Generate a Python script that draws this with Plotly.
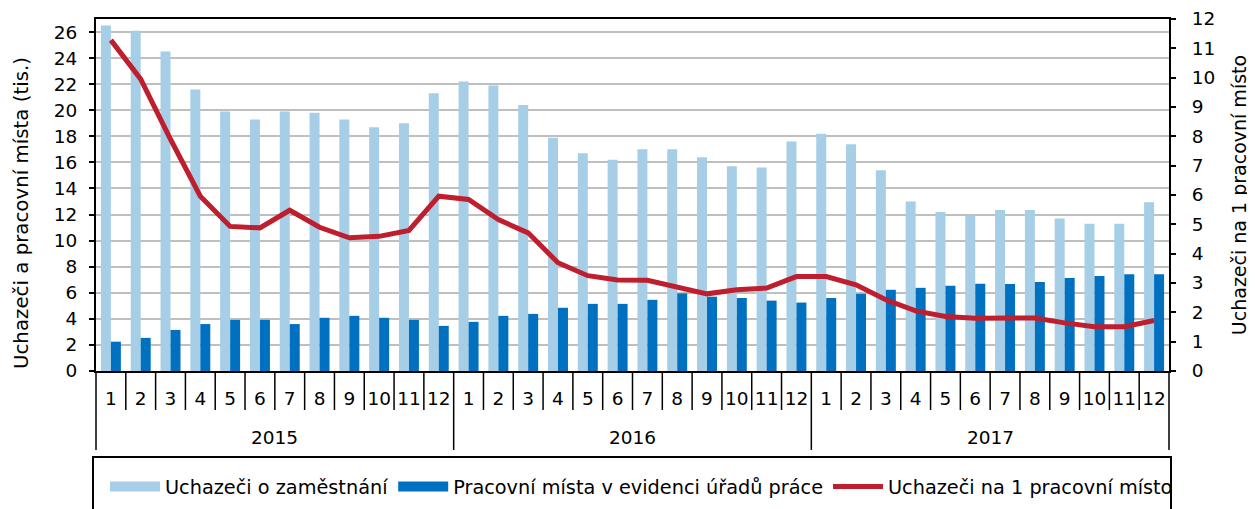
import plotly.graph_objects as go

years = ["2015", "2016", "2017"]
months = [str(m) for m in range(1, 13)]

uchazeci = [
    26.5, 26.1, 24.5, 21.6, 19.9, 19.3, 19.9, 19.8, 19.3, 18.7, 19.0, 21.3,
    22.2, 21.9, 20.4, 17.9, 16.7, 16.2, 17.0, 17.0, 16.4, 15.7, 15.6, 17.6,
    18.2, 17.4, 15.4, 13.0, 12.2, 11.95, 12.35, 12.35, 11.7, 11.3, 11.3, 12.95,
]
mista = [
    2.25, 2.54, 3.15, 3.6, 3.92, 3.92, 3.6, 4.08, 4.23, 4.08, 3.92, 3.46,
    3.77, 4.23, 4.38, 4.85, 5.15, 5.15, 5.46, 5.95, 5.7, 5.6, 5.4, 5.25,
    5.6, 5.92, 6.23, 6.38, 6.54, 6.69, 6.67, 6.82, 7.13, 7.28, 7.43, 7.43,
]
ratio = [
    11.28, 9.95, 7.9, 5.96, 4.93, 4.88, 5.48, 4.9, 4.54, 4.59, 4.79, 5.96,
    5.85, 5.16, 4.71, 3.69, 3.25, 3.1, 3.09, 2.86, 2.63, 2.77, 2.83, 3.22,
    3.22, 2.94, 2.43, 2.05, 1.86, 1.8, 1.8, 1.81, 1.64, 1.51, 1.51, 1.72,
]

names = ["Uchazeči o zaměstnání", "Pracovní místa v evidenci úřadů práce",
         "Uchazeči na 1 pracovní místo"]
colors = ["#A6CEE6", "#0070C0", "#BE1E2D"]
left_title = "Uchazeči a pracovní místa (tis.)"
right_title = "Uchazeči na 1 pracovní místo"

FONT = "DejaVu Sans"
n = len(years) * len(months)
x = list(range(n))
month_labels = [m for _y in years for m in months]

fig = go.Figure()
fig.add_trace(go.Bar(x=x, y=uchazeci, name=names[0], showlegend=False,
                     legendgroup="u", marker=dict(color=colors[0], line=dict(width=0))))
fig.add_trace(go.Bar(x=x, y=mista, name=names[1], showlegend=False,
                     legendgroup="m", marker=dict(color=colors[1], line=dict(width=0))))
# legend swatches for the two bar series (wide rectangles, as in the original)
fig.add_trace(go.Scatter(x=[None], y=[None], name=names[0], mode="lines",
                         legendgroup="u", legendrank=1,
                         line=dict(color=colors[0], width=12)))
fig.add_trace(go.Scatter(x=[None], y=[None], name=names[1], mode="lines",
                         legendgroup="m", legendrank=2,
                         line=dict(color=colors[1], width=12)))
fig.add_trace(go.Scatter(x=x, y=ratio, name=names[2], mode="lines", legendrank=3,
                         line=dict(color=colors[2], width=5), yaxis="y2"))

# the page body adds an 8px margin; compensate so the plot sits where it should
OFF = 8
W, H = 1255 - OFF, 509 - OFF
L, T, R = 96 - OFF, 19 - OFF, 86
PH = 352.0
PW = 1073.0
B = H - T - PH

shapes = []
for i in range(n + 1):
    is_year = i % len(months) == 0
    y1 = -79 / PH if is_year else -39 / PH
    if i == 0 or i == n:
        shapes.append(dict(type="line", xref="paper", yref="paper",
                           x0=0 if i == 0 else 1, x1=0 if i == 0 else 1,
                           y0=0, y1=y1, line=dict(color="black", width=1.5)))
    else:
        shapes.append(dict(type="line", xref="x", yref="paper",
                           x0=i - 0.5, x1=i - 0.5, y0=0, y1=y1,
                           line=dict(color="black", width=1.5)))
# legend frame
shapes.append(dict(type="rect", xref="paper", yref="paper",
                   x0=-3 / PW, x1=1 + 2 / PW, y0=-0.5, y1=-86 / PH,
                   line=dict(color="black", width=2), fillcolor="rgba(0,0,0,0)"))

annotations = []
for k, yr in enumerate(years):
    annotations.append(dict(text=yr, xref="x", yref="paper",
                            x=k * len(months) + (len(months) - 1) / 2,
                            y=-66 / PH, yanchor="middle", showarrow=False,
                            font=dict(family=FONT, size=18.5, color="black")))
# left axis title (placed like the original, slightly below the plot centre)
annotations.append(dict(text=left_title, xref="paper", yref="paper",
                        x=(21 - 96) / PW, y=(371 - 213) / PH,
                        xanchor="center", yanchor="middle", textangle=-90,
                        showarrow=False,
                        font=dict(family=FONT, size=19.8, color="black")))

fig.update_layout(
    width=W, height=H,
    margin=dict(l=L, r=R, t=T, b=B, autoexpand=False),
    paper_bgcolor="white", plot_bgcolor="white",
    barmode="group", bargap=0.33, bargroupgap=0,
    font=dict(family=FONT, size=18.5, color="black"),
    showlegend=True,
    legend=dict(orientation="h", x=9 / PW, xanchor="left", y=-116 / PH,
                yanchor="middle", font=dict(family=FONT, size=19.3),
                itemwidth=50, bgcolor="rgba(0,0,0,0)", traceorder="normal"),
    xaxis=dict(range=[-0.5, n - 0.5], tickmode="array", tickvals=x,
               ticktext=month_labels, ticks="", showline=True,
               linecolor="black", linewidth=2, mirror=True, showgrid=False,
               zeroline=False, ticklabelstandoff=10,
               tickfont=dict(size=18.5)),
    yaxis=dict(range=[0, 27], tickmode="array", tickvals=list(range(0, 27, 2)),
               ticks="outside", ticklen=5, tickwidth=2, tickcolor="black",
               showline=True, linecolor="black", linewidth=2,
               showgrid=True, gridcolor="#BFBFBF", gridwidth=1.5,
               zeroline=False, ticklabelstandoff=8),
    yaxis2=dict(overlaying="y", side="right", range=[0, 12], dtick=1,
                ticks="outside", ticklen=5, tickwidth=2, tickcolor="black",
                showline=True, linecolor="black", linewidth=2,
                showgrid=False, zeroline=False, ticklabelstandoff=12,
                title=dict(text=right_title, font=dict(size=19), standoff=18)),
    shapes=shapes,
    annotations=annotations,
)

fig.write_html("out.html")
